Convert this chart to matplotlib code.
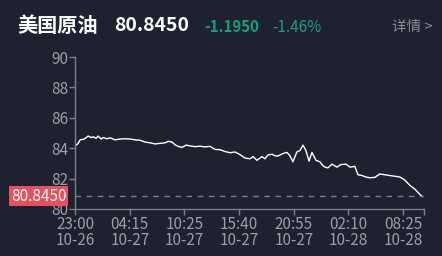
import matplotlib
matplotlib.use("Agg")
import matplotlib.pyplot as plt

plt.rcParams["font.family"] = ["Noto Sans CJK SC", "DejaVu Sans"]

# minutes since 23:00 10-26
minutes = [0, 17, 29, 52, 75, 92, 104, 121, 132, 150, 161, 184, 202, 230, 259, 288,
           317, 346, 374, 403, 432, 461, 490, 518, 536, 559, 576, 593, 616, 639, 662,
           691, 720, 749, 777, 806, 835, 864, 893, 921, 950, 979, 1008, 1025, 1048,
           1077, 1094, 1111, 1135, 1152, 1169, 1198, 1221, 1238, 1255, 1278, 1296,
           1313, 1330, 1348, 1365, 1388, 1411, 1428, 1440, 1457, 1480, 1509, 1532,
           1561, 1584, 1612, 1630, 1653, 1676, 1699, 1728, 1756, 1785, 1814, 1843,
           1872, 1900, 1929, 1947, 1958, 1975, 1987, 1998]
prices = [84.15, 84.3, 84.55, 84.6, 84.8, 84.7, 84.75, 84.65, 84.8, 84.6, 84.7, 84.62,
          84.68, 84.55, 84.6, 84.62, 84.6, 84.55, 84.52, 84.4, 84.35, 84.28, 84.32,
          84.35, 84.45, 84.4, 84.22, 84.12, 84.05, 84.2, 84.15, 84.1, 84.13, 84.08,
          84.12, 83.92, 83.9, 83.78, 83.7, 83.75, 83.58, 83.35, 83.3, 83.45, 83.2,
          83.45, 83.3, 83.55, 83.6, 83.5, 83.48, 83.65, 83.72, 83.5, 83.1, 83.75,
          83.85, 84.2, 83.85, 83.15, 83.72, 83.2, 83.1, 82.85, 82.75, 82.7, 82.95,
          82.75, 82.92, 82.95, 82.75, 82.8, 82.25, 82.2, 82.1, 82.05, 82.08, 82.3,
          82.25, 82.2, 82.15, 82.1, 81.9, 81.55, 81.4, 81.3, 81.1, 80.95, 80.845]

tick_pos = [0, 315, 630, 945, 1260, 1575, 1890]
tick_labels = ["23:00\n10-26", "04:15\n10-27", "10:25\n10-27", "15:40\n10-27",
               "20:55\n10-27", "02:10\n10-28", "08:25\n10-28"]
y_ticks = [80, 82, 84, 86, 88, 90]

name = "美国原油"
last = 80.845
change = "-1.1950"
change_pct = "-1.46%"

bg = "#1e2130"
axis_col = "#7d808a"
label_col = "#9b9ea6"
green = "#14a37f"
red = "#e8505e"

fig = plt.figure(figsize=(4.42, 2.56), dpi=100, facecolor=bg)
ax = fig.add_axes([0.170, 0.184, 0.789, 0.593], facecolor=bg)

ax.plot(minutes, prices, color="white", lw=1.0)
ax.axhline(last, color=axis_col, lw=1.0, ls=(0, (4, 4)))

ax.set_xlim(0, 2010)
ax.set_ylim(80, 90)
ax.set_xticks(tick_pos)
ax.set_xticklabels(tick_labels, linespacing=0.95)
ax.set_xticks([2010], minor=True)
ax.set_yticks(y_ticks)

for s in ["top", "right"]:
    ax.spines[s].set_visible(False)
for s in ["left", "bottom"]:
    ax.spines[s].set_color(axis_col)
    ax.spines[s].set_linewidth(1.0)
ax.tick_params(axis="both", which="both", color=axis_col, length=4, width=1,
               labelcolor=label_col, labelsize=11, pad=1)

# price tag on the y axis
ax.text(-0.025, last, f"{last:.4f}", transform=ax.get_yaxis_transform(),
        ha="right", va="center", color="white", fontsize=11, zorder=10,
        bbox=dict(boxstyle="square,pad=0.1", facecolor=red, edgecolor="none"))

fig.text(0.040, 0.900, name, color="white", fontsize=14.5, fontweight="bold", va="center")
fig.text(0.258, 0.900, f"{last:.4f}", color="white", fontsize=14, fontweight="bold",
         va="center")
fig.text(0.462, 0.893, change, color=green, fontsize=10.8, fontweight="bold", va="center")
fig.text(0.617, 0.893, change_pct, color=green, fontsize=11, va="center")
fig.text(0.888, 0.893, "详情 >", color="#8a8d96", fontsize=10.5, va="center")

fig.savefig("out.png", facecolor=bg)
